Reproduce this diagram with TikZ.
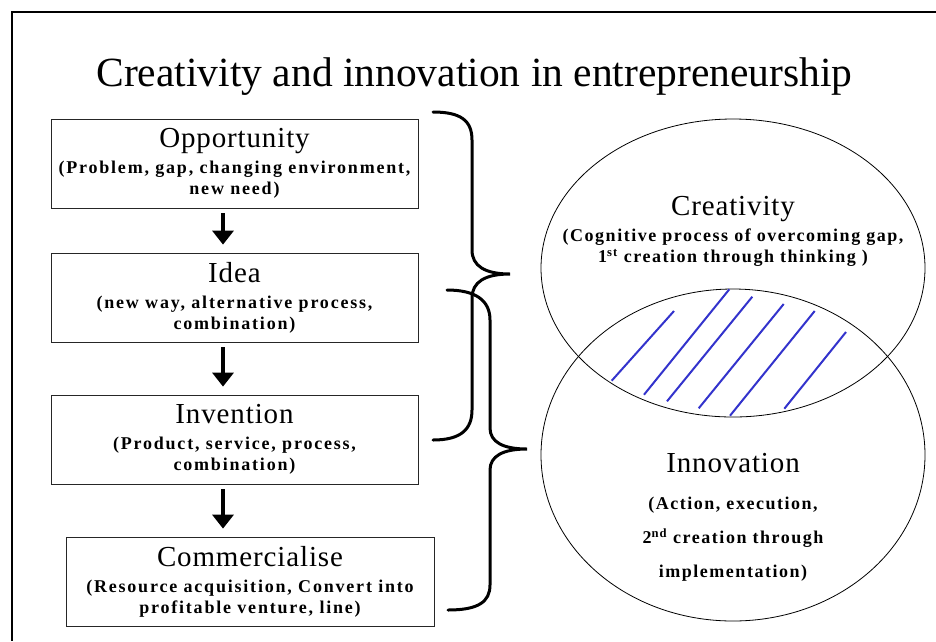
\documentclass[tikz,border=0pt]{standalone}
\usepackage{fontspec}
\setmainfont{Liberation Serif}
\newfontfamily\headfont[LetterSpace=3]{Liberation Serif}
\newfontfamily\notefont[LetterSpace=10]{Liberation Serif}
\newfontfamily\ovalfont[LetterSpace=8.5]{Liberation Serif}
\usetikzlibrary{arrows.meta, shapes.geometric, positioning}
\usepackage{xcolor}
\definecolor{hatchblue}{RGB}{51, 51, 204}
\newcommand\stagetitle[1]{{\headfont\mdseries\fontsize{29}{30}\selectfont #1}}

\begin{document}
\begin{tikzpicture}[x=1pt, y=-1pt,
  stage/.style={rectangle, draw=black!85, line width=0.8pt, minimum width=367pt,
                minimum height=89pt, inner sep=0pt, align=center,
                font=\notefont\bfseries\fontsize{18}{21}\selectfont},
  note/.style={inner sep=0pt, align=center, font=\ovalfont\bfseries\fontsize{18}{#1}\selectfont},
  circ/.style={ellipse, draw, line width=0.8pt, minimum width=384pt, minimum height=#1},
  arr/.style={-{Triangle[width=21pt, length=14pt]}, line width=4.5pt, shorten <=5pt, shorten >=8pt},
  brace/.style={line width=3pt, line cap=round},
  hatch/.style={hatchblue, line width=2pt}
]
\useasboundingbox (0,0) rectangle (936,641);
\draw[line width=1.6pt] (936,12) -- (12,12) -- (12,641);

\node[font=\fontsize{41.5}{48}\selectfont] (title) at (474.5,76.5) {Creativity and innovation in entrepreneurship};

\node[stage] (opp)  at (234.5,163.5) {\stagetitle{Opportunity}\\[5pt](Problem, gap, changing environment,\\new need)};
\node[stage] (idea) at (234.5,297.5) {\stagetitle{Idea}\\[5pt](new way, alternative process,\\combination)};
\node[stage] (inv)  at (234.5,439.5) {\stagetitle{Invention}\\[5pt](Product, service, process,\\combination)};
\node[stage, minimum width=368pt] (comm) at (250,581.5) {\stagetitle{Commercialise}\\[5pt](Resource acquisition, Convert into\\profitable venture, line)};

\coordinate (ax) at (223,0);
\draw[arr] (opp.south -| ax) -- (idea.north -| ax);
\draw[arr] (idea.south -| ax) -- (inv.north -| ax);
\draw[arr] (inv.south -| ax) -- (comm.north -| ax);

\node[circ=298pt] (crea) at (733,268) {};
\node[circ=332pt] (inno) at (733,455) {};
\node[note=21] (creaText) at (733,231.5) {\stagetitle{Creativity}\\[5pt](Cognitive process of overcoming gap,\\1\textsuperscript{st} creation through thinking )};
\node[note=34] (innoText) at (733,517.5) {\stagetitle{Innovation}\\[3pt](Action, execution,\\2\textsuperscript{nd} creation through\\implementation)};

\foreach \xa/\ya/\xb/\yb in {611.7/380.7/674/311, 644/394.7/729.3/289.3, 667/401.3/752.3/296.7,
                             698.7/408.3/783.7/304, 730/415.7/814.7/311, 784.3/408.7/846/332}
  \draw[hatch] (\xa,\ya) -- (\xb,\yb);

\coordinate (creaTip) at (510,274);
\coordinate (innoTip) at (527,449);
\draw[brace] (433,112) .. controls (460,112) and (472,120) .. (472,140) -- (472,250)
  .. controls (472,266) and (485,274) .. (creaTip) .. controls (485,274) and (472,282) .. (472,298)
  -- (472,410) .. controls (472,430) and (460,440) .. (433,440);
\draw[brace] (447,290) .. controls (475,290) and (490,300) .. (490,320) -- (490,428)
  .. controls (490,442) and (503,449) .. (innoTip) .. controls (503,449) and (490,456) .. (490,470)
  -- (490,585) .. controls (490,602) and (478,610) .. (448,610);
\end{tikzpicture}
\end{document}
